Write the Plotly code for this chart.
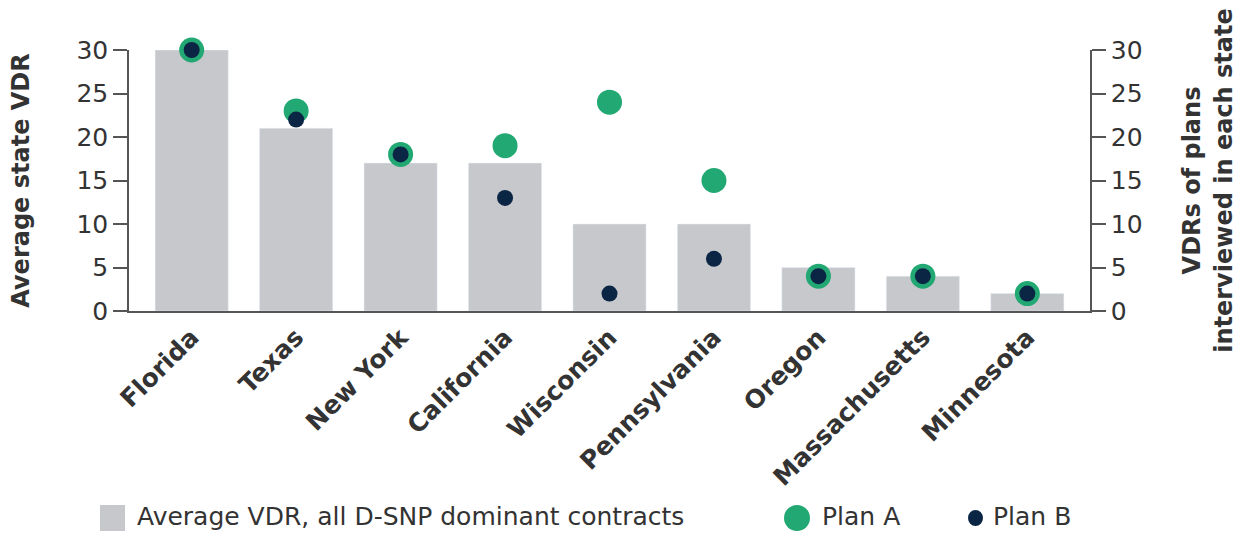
import plotly.graph_objects as go

states = ["Florida", "Texas", "New York", "California", "Wisconsin",
          "Pennsylvania", "Oregon", "Massachusetts", "Minnesota"]
avg_vdr = [30, 21, 17, 17, 10, 10, 5, 4, 2]
plan_a = [30, 23, 18, 19, 24, 15, 4, 4, 2]
plan_b = [30, 22, 18, 13, 2, 6, 4, 4, 2]

bar_label = "Average VDR, all D-SNP dominant contracts"
a_label = "Plan A"
b_label = "Plan B"

GRAY = "#C7C8CB"
GREEN = "#22A873"
NAVY = "#0B2545"
TEXT = "#333333"
AXIS = "#555555"
FONT = "DejaVu Sans"

W, H = 1239, 533
ML, MR, MT, MB = 129, 149, 50, 222
PW, PH = W - ML - MR, H - MT - MB


def px(x):
    return (x - ML) / PW


def py(y):
    return (H - MB - y) / PH


fig = go.Figure()
fig.add_trace(go.Bar(
    x=states, y=avg_vdr, name=bar_label,
    marker=dict(color=GRAY), width=0.7, yaxis="y",
))
fig.add_trace(go.Scatter(
    x=states, y=plan_a, name=a_label, mode="markers", cliponaxis=False,
    marker=dict(color=GREEN, size=25), yaxis="y2",
))
fig.add_trace(go.Scatter(
    x=states, y=plan_b, name=b_label, mode="markers", cliponaxis=False,
    marker=dict(color=NAVY, size=16), yaxis="y2",
))

axis_common = dict(
    range=[0, 30], tickvals=[0, 5, 10, 15, 20, 25, 30],
    showgrid=False, zeroline=False, showline=True, linecolor=AXIS, linewidth=1.5,
    ticks="outside", ticklen=14, tickcolor=AXIS, tickwidth=1.5,
    tickfont=dict(family=FONT, size=25, color=TEXT), automargin=False,
)

# Hand-built legend row beneath the chart
legend_y = 516
shapes = [
    dict(type="rect", xref="paper", yref="paper",
         x0=px(100), x1=px(125), y0=py(531), y1=py(505),
         fillcolor=GRAY, line=dict(width=0)),
    dict(type="circle", xref="paper", yref="paper",
         x0=px(784), x1=px(810), y0=py(518 + 13), y1=py(518 - 13),
         fillcolor=GREEN, line=dict(width=0)),
    dict(type="circle", xref="paper", yref="paper",
         x0=px(968), x1=px(983), y0=py(518 + 8), y1=py(518 - 8),
         fillcolor=NAVY, line=dict(width=0)),
]
annotations = [
    dict(text=t, x=px(x0), y=py(legend_y), xref="paper", yref="paper",
         xanchor="left", yanchor="middle", showarrow=False, borderpad=0,
         font=dict(family=FONT, size=25, color=TEXT))
    for t, x0 in [(bar_label, 136), (a_label, 821), (b_label, 992)]
]

fig.update_layout(
    width=W, height=H,
    margin=dict(l=ML, r=MR, t=MT, b=MB, autoexpand=False),
    paper_bgcolor="white", plot_bgcolor="white",
    font=dict(family=FONT, color=TEXT),
    showlegend=False,
    shapes=shapes, annotations=annotations,
    xaxis=dict(
        range=[-0.6, 8.6], showline=True, linecolor=AXIS, linewidth=1.5,
        ticks="", tickangle=-45, automargin=False,
        tickfont=dict(family=FONT, size=25, color=TEXT, weight="bold"),
    ),
    yaxis=dict(
        **axis_common,
        title=dict(text="<b>Average state VDR</b>", standoff=40,
                   font=dict(family=FONT, size=24, color=TEXT)),
    ),
    yaxis2=dict(
        **axis_common, overlaying="y", side="right",
        title=dict(text="<b>VDRs of plans<br>interviewed in each state</b>", standoff=42,
                   font=dict(family=FONT, size=24, color=TEXT)),
    ),
)

fig.write_html("out.html")
